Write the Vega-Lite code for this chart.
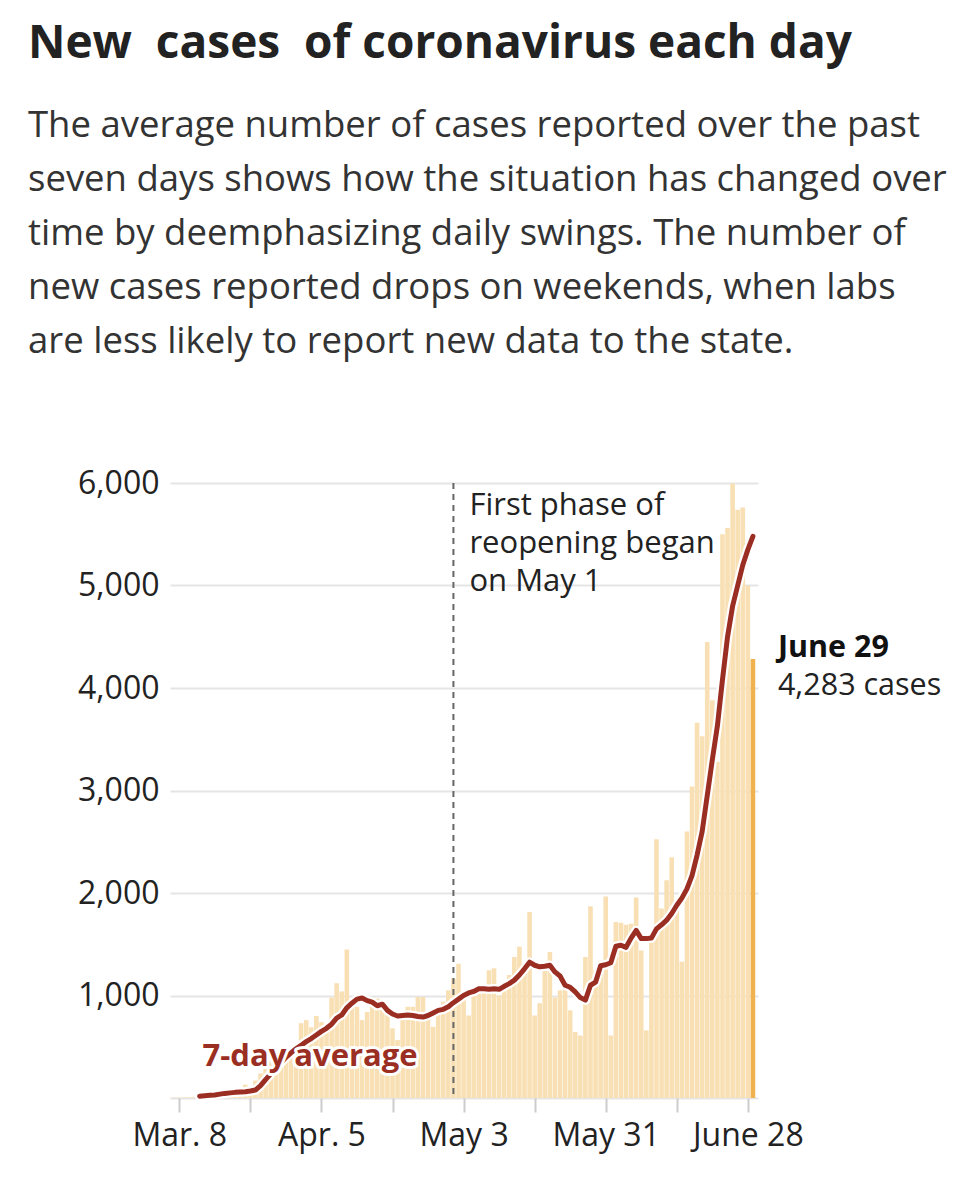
{
  "$schema": "https://vega.github.io/schema/vega-lite/v6.json",
  "width": 588,
  "height": 615,
  "autosize": {"type": "none"},
  "padding": {"left": 170, "top": 483, "right": 222, "bottom": 102},
  "background": "white",
  "config": {
    "font": "Open Sans",
    "view": {"stroke": null}
  },
  "title": {
    "text": "New\u00a0 cases\u00a0 of coronavirus each day",
    "subtitle": [
      "The average number of cases reported over the past",
      "seven days shows how the situation has changed over",
      "time by deemphasizing daily swings. The number of",
      "new cases reported drops on weekends, when labs",
      "are less likely to report new data to the state."
    ],
    "anchor": "start",
    "frame": "group",
    "dx": -142,
    "font": "Open Sans",
    "fontSize": 46,
    "fontWeight": "bold",
    "color": "#222222",
    "subtitleFont": "Open Sans",
    "subtitleFontSize": 36.5,
    "subtitleColor": "#333333",
    "subtitleLineHeight": 54,
    "subtitlePadding": 40,
    "offset": 106
  },
  "datasets": {
    "daily": [
      {"date": "2020-03-06", "cases": 1},
      {"date": "2020-03-07", "cases": 3},
      {"date": "2020-03-08", "cases": 4},
      {"date": "2020-03-09", "cases": 5},
      {"date": "2020-03-10", "cases": 6},
      {"date": "2020-03-11", "cases": 8},
      {"date": "2020-03-12", "cases": 10, "avg": 18},
      {"date": "2020-03-13", "cases": 20, "avg": 22},
      {"date": "2020-03-14", "cases": 15, "avg": 26},
      {"date": "2020-03-15", "cases": 20, "avg": 30},
      {"date": "2020-03-16", "cases": 25, "avg": 38},
      {"date": "2020-03-17", "cases": 30, "avg": 45},
      {"date": "2020-03-18", "cases": 45, "avg": 50},
      {"date": "2020-03-19", "cases": 60, "avg": 55},
      {"date": "2020-03-20", "cases": 55, "avg": 58},
      {"date": "2020-03-21", "cases": 130, "avg": 62},
      {"date": "2020-03-22", "cases": 70, "avg": 68},
      {"date": "2020-03-23", "cases": 170, "avg": 78},
      {"date": "2020-03-24", "cases": 240, "avg": 120},
      {"date": "2020-03-25", "cases": 300, "avg": 180},
      {"date": "2020-03-26", "cases": 360, "avg": 235},
      {"date": "2020-03-27", "cases": 420, "avg": 290},
      {"date": "2020-03-28", "cases": 460, "avg": 345},
      {"date": "2020-03-29", "cases": 400, "avg": 395},
      {"date": "2020-03-30", "cases": 480, "avg": 440},
      {"date": "2020-03-31", "cases": 510, "avg": 480},
      {"date": "2020-04-01", "cases": 730, "avg": 515},
      {"date": "2020-04-02", "cases": 760, "avg": 550},
      {"date": "2020-04-03", "cases": 690, "avg": 580},
      {"date": "2020-04-04", "cases": 800, "avg": 615},
      {"date": "2020-04-05", "cases": 740, "avg": 650},
      {"date": "2020-04-06", "cases": 660, "avg": 680},
      {"date": "2020-04-07", "cases": 980, "avg": 720},
      {"date": "2020-04-08", "cases": 1120, "avg": 780},
      {"date": "2020-04-09", "cases": 1040, "avg": 810},
      {"date": "2020-04-10", "cases": 1450, "avg": 880},
      {"date": "2020-04-11", "cases": 920, "avg": 925},
      {"date": "2020-04-12", "cases": 890, "avg": 965},
      {"date": "2020-04-13", "cases": 760, "avg": 975},
      {"date": "2020-04-14", "cases": 840, "avg": 950},
      {"date": "2020-04-15", "cases": 985, "avg": 935},
      {"date": "2020-04-16", "cases": 970, "avg": 900},
      {"date": "2020-04-17", "cases": 940, "avg": 915},
      {"date": "2020-04-18", "cases": 840, "avg": 855},
      {"date": "2020-04-19", "cases": 680, "avg": 820},
      {"date": "2020-04-20", "cases": 565, "avg": 800},
      {"date": "2020-04-21", "cases": 825, "avg": 805},
      {"date": "2020-04-22", "cases": 890, "avg": 810},
      {"date": "2020-04-23", "cases": 890, "avg": 805},
      {"date": "2020-04-24", "cases": 985, "avg": 795},
      {"date": "2020-04-25", "cases": 985, "avg": 790},
      {"date": "2020-04-26", "cases": 840, "avg": 805},
      {"date": "2020-04-27", "cases": 695, "avg": 830},
      {"date": "2020-04-28", "cases": 855, "avg": 855},
      {"date": "2020-04-29", "cases": 940, "avg": 865},
      {"date": "2020-04-30", "cases": 1050, "avg": 890},
      {"date": "2020-05-01", "cases": 1165, "avg": 930},
      {"date": "2020-05-02", "cases": 1310, "avg": 965},
      {"date": "2020-05-03", "cases": 985, "avg": 1000},
      {"date": "2020-05-04", "cases": 805, "avg": 1025},
      {"date": "2020-05-05", "cases": 1000, "avg": 1040},
      {"date": "2020-05-06", "cases": 1020, "avg": 1065},
      {"date": "2020-05-07", "cases": 1050, "avg": 1065},
      {"date": "2020-05-08", "cases": 1246, "avg": 1060},
      {"date": "2020-05-09", "cases": 1265, "avg": 1065},
      {"date": "2020-05-10", "cases": 1000, "avg": 1060},
      {"date": "2020-05-11", "cases": 1110, "avg": 1090},
      {"date": "2020-05-12", "cases": 1200, "avg": 1116},
      {"date": "2020-05-13", "cases": 1375, "avg": 1150},
      {"date": "2020-05-14", "cases": 1475, "avg": 1200},
      {"date": "2020-05-15", "cases": 1240, "avg": 1260},
      {"date": "2020-05-16", "cases": 1815, "avg": 1325},
      {"date": "2020-05-17", "cases": 805, "avg": 1295},
      {"date": "2020-05-18", "cases": 925, "avg": 1280},
      {"date": "2020-05-19", "cases": 1310, "avg": 1285},
      {"date": "2020-05-20", "cases": 1425, "avg": 1295},
      {"date": "2020-05-21", "cases": 980, "avg": 1230},
      {"date": "2020-05-22", "cases": 1050, "avg": 1190},
      {"date": "2020-05-23", "cases": 1100, "avg": 1100},
      {"date": "2020-05-24", "cases": 855, "avg": 1080},
      {"date": "2020-05-25", "cases": 645, "avg": 1035},
      {"date": "2020-05-26", "cases": 610, "avg": 980},
      {"date": "2020-05-27", "cases": 1375, "avg": 955},
      {"date": "2020-05-28", "cases": 1870, "avg": 1100},
      {"date": "2020-05-29", "cases": 1246, "avg": 1130},
      {"date": "2020-05-30", "cases": 1340, "avg": 1290},
      {"date": "2020-05-31", "cases": 1965, "avg": 1300},
      {"date": "2020-06-01", "cases": 610, "avg": 1320},
      {"date": "2020-06-02", "cases": 1717, "avg": 1480},
      {"date": "2020-06-03", "cases": 1710, "avg": 1490},
      {"date": "2020-06-04", "cases": 1690, "avg": 1470},
      {"date": "2020-06-05", "cases": 1700, "avg": 1560},
      {"date": "2020-06-06", "cases": 1955, "avg": 1635},
      {"date": "2020-06-07", "cases": 1440, "avg": 1555},
      {"date": "2020-06-08", "cases": 660, "avg": 1555},
      {"date": "2020-06-09", "cases": 1600, "avg": 1560},
      {"date": "2020-06-10", "cases": 2525, "avg": 1650},
      {"date": "2020-06-11", "cases": 1850, "avg": 1690},
      {"date": "2020-06-12", "cases": 2125, "avg": 1735},
      {"date": "2020-06-13", "cases": 2350, "avg": 1800},
      {"date": "2020-06-14", "cases": 1930, "avg": 1880},
      {"date": "2020-06-15", "cases": 1330, "avg": 1950},
      {"date": "2020-06-16", "cases": 2600, "avg": 2040},
      {"date": "2020-06-17", "cases": 3040, "avg": 2170},
      {"date": "2020-06-18", "cases": 3660, "avg": 2370},
      {"date": "2020-06-19", "cases": 3530, "avg": 2600},
      {"date": "2020-06-20", "cases": 4450, "avg": 2950},
      {"date": "2020-06-21", "cases": 3880, "avg": 3300},
      {"date": "2020-06-22", "cases": 3280, "avg": 3630},
      {"date": "2020-06-23", "cases": 5500, "avg": 4080},
      {"date": "2020-06-24", "cases": 5560, "avg": 4500},
      {"date": "2020-06-25", "cases": 5996, "avg": 4800},
      {"date": "2020-06-26", "cases": 5740, "avg": 5000},
      {"date": "2020-06-27", "cases": 5760, "avg": 5200},
      {"date": "2020-06-28", "cases": 5000, "avg": 5350},
      {"date": "2020-06-29", "cases": 4283, "avg": 5480}
    ],
    "reopening": [
      {"date": "2020-05-01", "value": 5690, "label": "First phase of\nreopening began\non May 1"}
    ],
    "avgLabel": [
      {"date": "2020-03-12", "value": 310, "label": "7-day average"}
    ],
    "latest": [
      {"date": "2020-06-29", "value": 4283, "label": "June 29", "sub": "4,283 cases"}
    ]
  },
  "layer": [
    {
      "data": {"name": "daily"},
      "mark": {"type": "bar", "width": 4.6},
      "encoding": {
        "x": {
          "field": "date",
          "type": "temporal",
          "title": null,
          "scale": {
            "type": "utc",
            "nice": false,
            "padding": 0,
            "domain": [
              {"year": 2020, "month": 3, "date": 6, "hours": 4, "utc": true},
              {"year": 2020, "month": 6, "date": 30, "utc": true}
            ]
          },
          "axis": {
            "values": [
              {"year": 2020, "month": 3, "date": 8, "utc": true},
              {"year": 2020, "month": 3, "date": 15, "utc": true},
              {"year": 2020, "month": 3, "date": 22, "utc": true},
              {"year": 2020, "month": 3, "date": 29, "utc": true},
              {"year": 2020, "month": 4, "date": 5, "utc": true},
              {"year": 2020, "month": 4, "date": 12, "utc": true},
              {"year": 2020, "month": 4, "date": 19, "utc": true},
              {"year": 2020, "month": 4, "date": 26, "utc": true},
              {"year": 2020, "month": 5, "date": 3, "utc": true},
              {"year": 2020, "month": 5, "date": 10, "utc": true},
              {"year": 2020, "month": 5, "date": 17, "utc": true},
              {"year": 2020, "month": 5, "date": 24, "utc": true},
              {"year": 2020, "month": 5, "date": 31, "utc": true},
              {"year": 2020, "month": 6, "date": 7, "utc": true},
              {"year": 2020, "month": 6, "date": 14, "utc": true},
              {"year": 2020, "month": 6, "date": 21, "utc": true},
              {"year": 2020, "month": 6, "date": 28, "utc": true}
            ],
            "labelExpr": "(utcmonth(datum.value)==2 && utcdate(datum.value)==8) ? 'Mar. 8' : (utcmonth(datum.value)==3 && utcdate(datum.value)==5) ? 'Apr. 5' : (utcmonth(datum.value)==4 && utcdate(datum.value)==3) ? 'May 3' : (utcmonth(datum.value)==4 && utcdate(datum.value)==31) ? 'May 31' : (utcmonth(datum.value)==5 && utcdate(datum.value)==28) ? 'June 28' : ''",
            "grid": false,
            "domain": false,
            "ticks": true,
            "tickColor": "#cccccc",
            "tickSize": 14,
            "tickWidth": 2,
            "labelFont": "Open Sans",
            "labelFontSize": 32,
            "labelColor": "#222222",
            "labelPadding": 8,
            "labelOverlap": false,
            "labelFlush": false
          }
        },
        "y": {
          "field": "cases",
          "type": "quantitative",
          "title": null,
          "scale": {"domain": [0, 6000], "nice": false, "zero": true},
          "axis": {
            "values": [0, 1000, 2000, 3000, 4000, 5000, 6000],
            "labelExpr": "datum.value == 0 ? '' : format(datum.value, ',')",
            "grid": true,
            "gridColor": "#e5e5e5",
            "gridWidth": 2,
            "domain": false,
            "ticks": false,
            "labelFont": "Open Sans",
            "labelFontSize": 32,
            "labelColor": "#222222",
            "labelPadding": 11
          }
        },
        "color": {
          "condition": {
            "test": "utcmonth(datum.date) == 5 && utcdate(datum.date) == 29",
            "value": "#f0b24f"
          },
          "value": "#f8e0b4"
        }
      }
    },
    {
      "data": {"name": "reopening"},
      "mark": {"type": "rule", "color": "#666666", "strokeWidth": 2, "strokeDash": [6, 5]},
      "encoding": {
        "x": {"field": "date", "type": "temporal", "title": null}
      }
    },
    {
      "data": {"name": "daily"},
      "transform": [{"filter": "isValid(datum.avg)"}],
      "mark": {"type": "line", "color": "white", "strokeWidth": 9.5, "strokeJoin": "round", "strokeCap": "round"},
      "encoding": {
        "x": {"field": "date", "type": "temporal", "title": null},
        "y": {"field": "avg", "type": "quantitative", "title": null}
      }
    },
    {
      "data": {"name": "daily"},
      "transform": [{"filter": "isValid(datum.avg)"}],
      "mark": {"type": "line", "color": "#9b2e22", "strokeWidth": 5, "strokeJoin": "round", "strokeCap": "round"},
      "encoding": {
        "x": {"field": "date", "type": "temporal", "title": null},
        "y": {"field": "avg", "type": "quantitative", "title": null}
      }
    },
    {
      "data": {"name": "reopening"},
      "mark": {"type": "text", "align": "left", "baseline": "alphabetic", "dx": 16, "fontSize": 31, "lineHeight": 38, "lineBreak": "\n", "color": "#222222", "font": "Open Sans"},
      "encoding": {
        "x": {"field": "date", "type": "temporal", "title": null},
        "y": {"field": "value", "type": "quantitative", "title": null},
        "text": {"field": "label"}
      }
    },
    {
      "data": {"name": "avgLabel"},
      "mark": {"type": "text", "align": "left", "baseline": "alphabetic", "dx": 3, "fontSize": 31, "fontWeight": "bold", "font": "Open Sans", "color": "white", "stroke": "white", "strokeWidth": 6, "strokeJoin": "round"},
      "encoding": {
        "x": {"field": "date", "type": "temporal", "title": null},
        "y": {"field": "value", "type": "quantitative", "title": null},
        "text": {"field": "label"}
      }
    },
    {
      "data": {"name": "avgLabel"},
      "mark": {"type": "text", "align": "left", "baseline": "alphabetic", "dx": 3, "fontSize": 31, "fontWeight": "bold", "font": "Open Sans", "color": "#9b2e22"},
      "encoding": {
        "x": {"field": "date", "type": "temporal", "title": null},
        "y": {"field": "value", "type": "quantitative", "title": null},
        "text": {"field": "label"}
      }
    },
    {
      "data": {"name": "latest"},
      "mark": {"type": "text", "align": "left", "baseline": "alphabetic", "dx": 25, "dy": -2, "fontSize": 30.5, "fontWeight": "bold", "font": "Open Sans", "color": "#111111"},
      "encoding": {
        "x": {"field": "date", "type": "temporal", "title": null},
        "y": {"field": "value", "type": "quantitative", "title": null},
        "text": {"field": "label"}
      }
    },
    {
      "data": {"name": "latest"},
      "mark": {"type": "text", "align": "left", "baseline": "alphabetic", "dx": 25, "dy": 36, "fontSize": 30.5, "font": "Open Sans", "color": "#222222"},
      "encoding": {
        "x": {"field": "date", "type": "temporal", "title": null},
        "y": {"field": "value", "type": "quantitative", "title": null},
        "text": {"field": "sub"}
      }
    }
  ]
}
